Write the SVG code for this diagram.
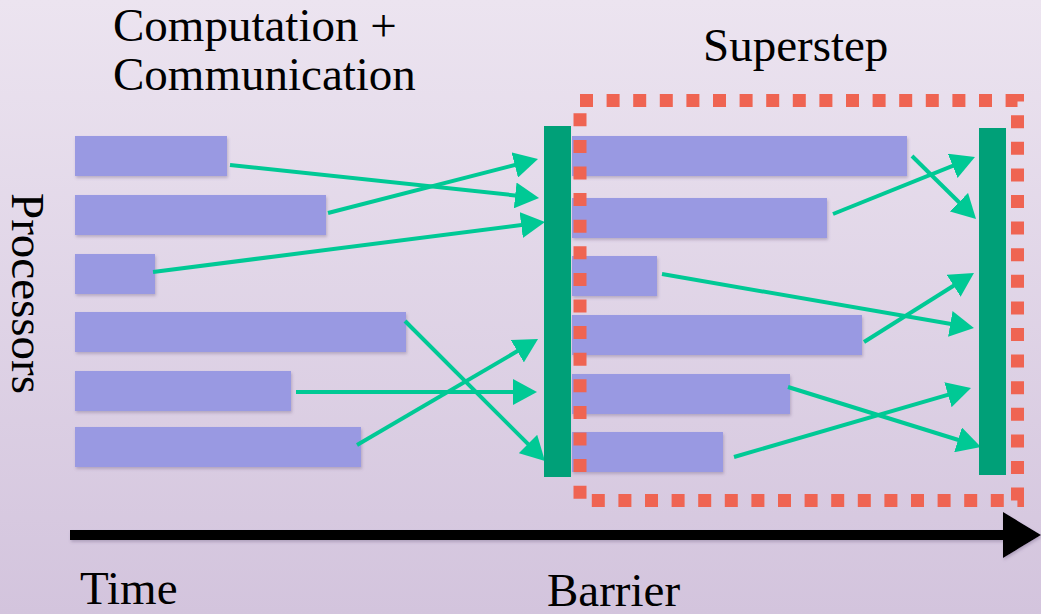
<svg xmlns="http://www.w3.org/2000/svg" width="1041" height="614" viewBox="0 0 1041 614">
  <defs>
    <linearGradient id="bg" x1="0" y1="0" x2="0" y2="1">
      <stop offset="0" stop-color="#ECE4F0"/>
      <stop offset="1" stop-color="#D3C4DD"/>
    </linearGradient>
    <filter id="sh" filterUnits="userSpaceOnUse" x="0" y="0" width="1041" height="614">
      <feDropShadow dx="1" dy="2" stdDeviation="1.5" flood-color="#6a5a80" flood-opacity="0.35"/>
    </filter>
    <marker id="ah" markerUnits="userSpaceOnUse" markerWidth="24" markerHeight="26" viewBox="0 0 24 26" refX="14" refY="13" orient="auto">
      <path d="M0,0 L24,13 L0,26 z" fill="#00C995"/>
    </marker>
  </defs>
  <style>
    .bar { fill: #9999E2; filter: url(#sh); }
    .barrier { fill: #00A078; }
    .msg { stroke: #00C995; stroke-width: 4; fill: none; marker-end: url(#ah); }
    .lbl { font-family: "Liberation Serif", "Times New Roman", serif; font-size: 47px; fill: #000; }
  </style>
  <rect x="0" y="0" width="1041" height="614" fill="url(#bg)"/>

  <g id="labels">
    <text class="lbl" x="113" y="41">Computation +</text>
    <text class="lbl" x="113" y="90">Communication</text>
    <text class="lbl" x="703" y="61">Superstep</text>
    <text class="lbl" transform="translate(12,193) rotate(90)">Processors</text>
    <text class="lbl" x="80" y="604">Time</text>
    <text class="lbl" x="547" y="606">Barrier</text>
  </g>

  <g id="processors-step1">
    <rect class="bar" x="75" y="136" width="152" height="40"/>
    <rect class="bar" x="75" y="195" width="251" height="40"/>
    <rect class="bar" x="75" y="254" width="80" height="40"/>
    <rect class="bar" x="75" y="312" width="331" height="40"/>
    <rect class="bar" x="75" y="371" width="216" height="40"/>
    <rect class="bar" x="75" y="427" width="286" height="40"/>
  </g>

  <g id="processors-step2">
    <rect class="bar" x="572" y="136" width="335" height="40"/>
    <rect class="bar" x="572" y="198" width="255" height="40"/>
    <rect class="bar" x="572" y="256" width="85" height="40"/>
    <rect class="bar" x="572" y="315" width="290" height="40"/>
    <rect class="bar" x="572" y="374" width="218" height="40"/>
    <rect class="bar" x="572" y="432" width="151" height="40"/>
  </g>

  <g id="superstep">
    <rect x="580" y="100.5" width="437.5" height="400" fill="none" stroke="#EF6452" stroke-width="13" stroke-dasharray="13 13.6"/>
  </g>

  <g id="connectors">
    <path class="msg" d="M230,165 L529.1,196.9"/>
    <path class="msg" d="M328,213 L528.3,161.5"/>
    <path class="msg" d="M153,272 L535.1,223.3"/>
    <path class="msg" d="M405,321 L537.9,453.9"/>
    <path class="msg" d="M296,392 L527,392"/>
    <path class="msg" d="M357,445 L529.4,344.1"/>
    <path class="msg" d="M912,156 L968.9,212"/>
    <path class="msg" d="M833,214 L965.7,160.7"/>
    <path class="msg" d="M662,274 L964.1,326.3"/>
    <path class="msg" d="M864,342 L965.5,278.3"/>
    <path class="msg" d="M788,387 L971.4,444"/>
    <path class="msg" d="M734,457 L961.4,390.8"/>
  </g>

  <g id="barrier1">
    <rect class="barrier" x="544" y="126" width="27" height="351"/>
  </g>
  <g id="barrier2">
    <rect class="barrier" x="979" y="128" width="27" height="347"/>
  </g>

  <g id="time-axis" filter="url(#sh)">
    <rect x="70" y="530" width="936" height="10" fill="#000"/>
    <polygon points="1003,512 1041,535 1003,558" fill="#000"/>
  </g>
</svg>
